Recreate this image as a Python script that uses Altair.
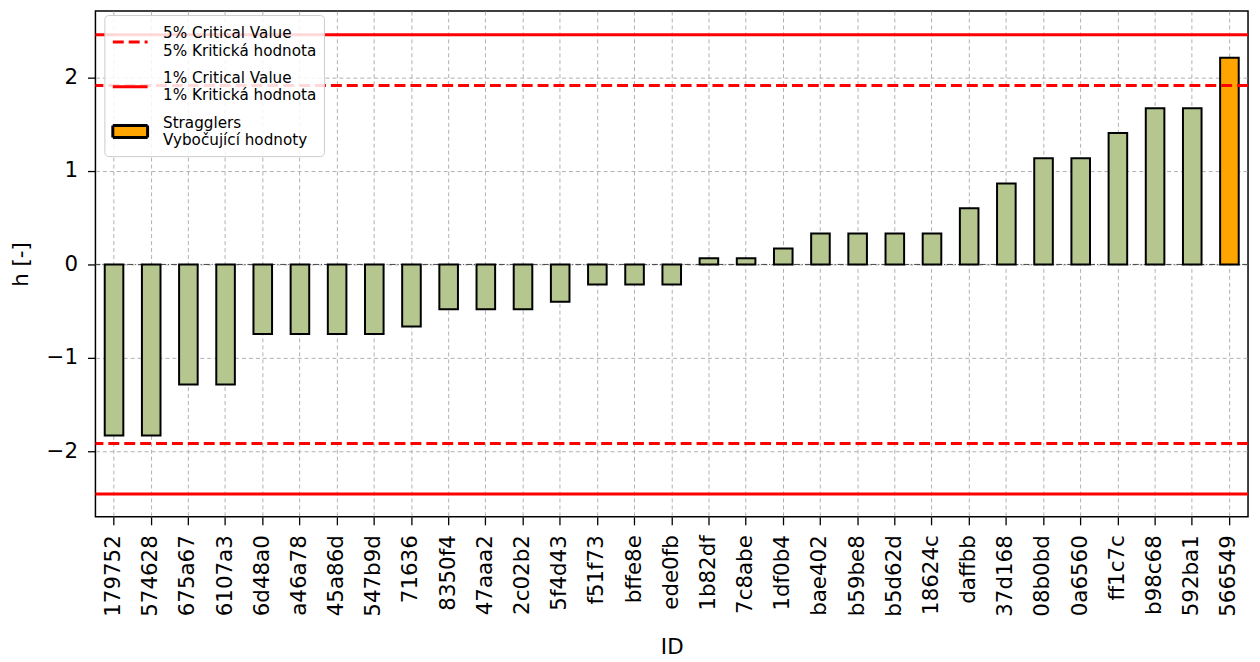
import altair as alt
import pandas as pd

ids = ["179752", "574628", "675a67", "6107a3", "6d48a0", "a46a78", "45a86d", "547b9d",
       "71636", "8350f4", "47aaa2", "2c02b2", "5f4d43", "f51f73", "bffe8e", "ede0fb",
       "1b82df", "7c8abe", "1df0b4", "bae402", "b59be8", "b5d62d", "18624c", "daffbb",
       "37d168", "08b0bd", "0a6560", "ff1c7c", "b98c68", "592ba1", "566549"]
h_values = [-1.83, -1.83, -1.285, -1.285, -0.745, -0.745, -0.745, -0.745,
            -0.665, -0.48, -0.48, -0.48, -0.40, -0.215, -0.215, -0.215,
            0.065, 0.065, 0.17, 0.33, 0.33, 0.33, 0.33, 0.60,
            0.865, 1.135, 1.135, 1.405, 1.67, 1.67, 2.21]
stragglers = ["566549"]

crit_values = [1.915, -1.915, 2.456, -2.456]
crit_kind = ["5%", "5%", "1%", "1%"]

legend_labels = ["5% Critical Value|5% Kritická hodnota",
                 "1% Critical Value|1% Kritická hodnota",
                 "Stragglers|Vybočující hodnoty"]

FONT = "DejaVu Sans"
GREEN = "#b5c78f"
ORANGE = "#ffa500"
RED = "#ff0000"

bars_df = pd.DataFrame({"ID": ids, "h": h_values,
                        "straggler": [i in stragglers for i in ids]})
crit_df = pd.DataFrame({"h": crit_values, "kind": crit_kind})
zero_df = pd.DataFrame({"h": [0.0]})
legend_df = pd.DataFrame({"key": legend_labels, "ID": [ids[0]] * 3, "h": [99.0] * 3})

yscale = alt.Scale(domain=[-2.70, 2.71], nice=False, zero=False)
xscale = alt.Scale(domain=ids, paddingInner=0.5, paddingOuter=0.25)

x_enc = alt.X("ID:N", scale=xscale, sort=ids, title="ID",
              axis=alt.Axis(labelAngle=-90, bandPosition=0.5, tickBand="center",
                            titlePadding=20))
y_enc = alt.Y("h:Q", scale=yscale, title="h [-]",
              axis=alt.Axis(values=[-2, -1, 0, 1, 2], format="~g", titlePadding=14))

zero = alt.Chart(zero_df).mark_rule(color="#444444", strokeWidth=1,
                                    strokeDash=[6, 2, 1, 2]).encode(y=alt.Y("h:Q", scale=yscale))

bars = alt.Chart(bars_df).mark_bar(stroke="black", strokeWidth=2).encode(
    x=x_enc, y=y_enc,
    fill=alt.condition("datum.straggler", alt.value(ORANGE), alt.value(GREEN)),
)

crit5 = alt.Chart(crit_df).transform_filter("datum.kind == '5%'").mark_rule(
    color=RED, strokeWidth=3, strokeDash=[11, 5]).encode(y=alt.Y("h:Q", scale=yscale))
crit1 = alt.Chart(crit_df).transform_filter("datum.kind == '1%'").mark_rule(
    color=RED, strokeWidth=3).encode(y=alt.Y("h:Q", scale=yscale))

line_path = "M-1,0.865H2.5"
rect_path = "M-1,0.265H2.5V1.465H-1Z"
leg = alt.Legend(title=None, orient="none", legendX=9, legendY=4,
                 labelExpr="split(datum.label, '|')", labelLimit=400,
                 labelFontSize=15.3, labelFont=FONT, labelColor="black",
                 symbolSize=400, symbolStrokeWidth=3, labelOffset=29,
                 rowPadding=7, padding=7, fillColor="rgba(255,255,255,0.85)",
                 strokeColor="#cccccc", cornerRadius=4)

legend_layer = alt.Chart(legend_df).mark_point(filled=True, opacity=1, clip=True).encode(
    x=alt.X("ID:N", scale=xscale, sort=ids),
    y=alt.Y("h:Q", scale=yscale),
    shape=alt.Shape("key:N", scale=alt.Scale(domain=legend_labels,
                                             range=[line_path, line_path, rect_path]), legend=leg),
    fill=alt.Fill("key:N", scale=alt.Scale(domain=legend_labels,
                                           range=["transparent", "transparent", ORANGE]), legend=leg),
    stroke=alt.Stroke("key:N", scale=alt.Scale(domain=legend_labels,
                                               range=[RED, RED, "black"]), legend=leg),
    strokeDash=alt.StrokeDash("key:N", scale=alt.Scale(domain=legend_labels,
                                                       range=[[11, 5], [1, 0], [1, 0]]), legend=leg),
)

chart = alt.layer(zero, bars, crit5, crit1, legend_layer).properties(
    width=1160, height=509,
    autosize=alt.AutoSizeParams(type="none"),
    padding={"left": 88, "top": 1, "right": 4, "bottom": 144},
).configure_view(
    stroke="black", strokeWidth=1.5
).configure_axis(
    labelFont=FONT, titleFont=FONT, labelFontSize=21.5, titleFontSize=21.5,
    labelColor="black", titleColor="black", titleFontWeight="normal",
    domain=False, tickColor="black", tickWidth=1.3, tickSize=8, labelPadding=10,
    grid=True, gridColor="#b0b0b0", gridDash=[4, 3], gridWidth=1,
).configure_legend(
    labelFont=FONT
)

chart.save("out.html", embed_options={"renderer": "svg", "actions": False})
